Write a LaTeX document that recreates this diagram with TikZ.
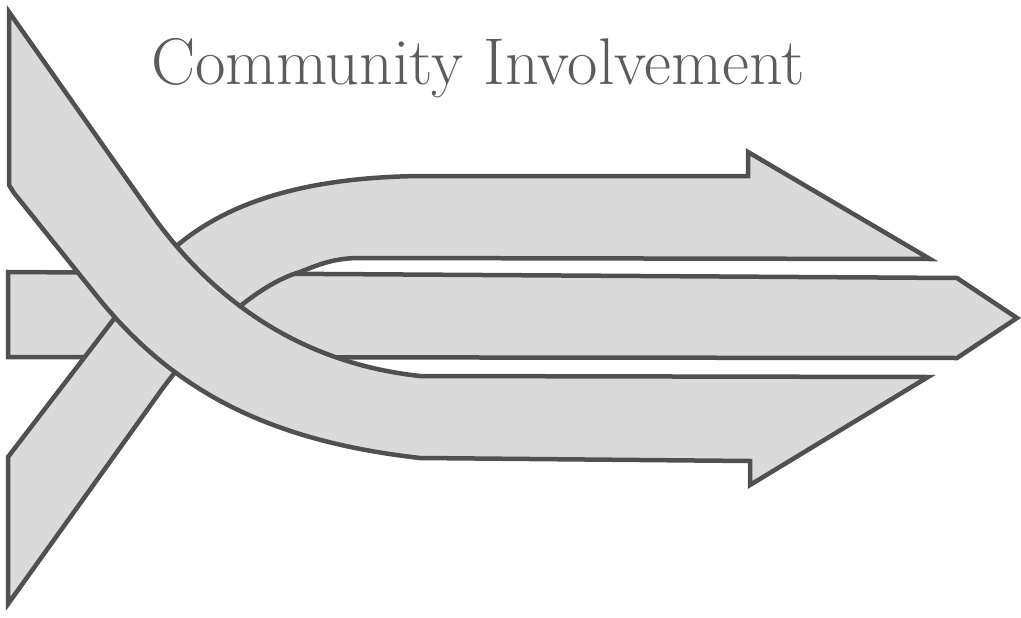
\documentclass[tikz,border=0pt]{standalone}
\usepackage{xcolor}
\definecolor{ribbonfill}{HTML}{DADADA}
\definecolor{ribbonline}{HTML}{505050}
\definecolor{titlegray}{HTML}{5C5C5C}
\begin{document}
\begin{tikzpicture}[x=0.025cm,y=-0.025cm,
  ribbon/.style={fill=ribbonfill, draw=ribbonline, line width=3.2pt, line join=miter, miter limit=4},
  titletext/.style={text=titlegray, font=\fontsize{47}{52}\selectfont, anchor=base, inner sep=0pt}]
\useasboundingbox (0,0) rectangle (1021,618);
% middle band (back)
\path[ribbon] (8,272) -- (957,278) -- (1017,318) -- (957,358) -- (8,357) -- cycle;
% ribbon from bottom left to top arrow
\path[ribbon] (8,457) -- (8,604) -- (160,392)
  .. controls (200,337) and (255,285) .. (300,272)
  .. controls (320,264) and (335,258) .. (360,258)
  -- (930,259) -- (748,152) -- (748,176) -- (420,176)
  .. controls (260,178) and (185,225) .. (140,285) -- cycle;
% ribbon from top left to bottom arrow (front)
\path[ribbon] (9,12) -- (150,212)
  .. controls (205,290) and (290,362) .. (420,376)
  -- (928,377) -- (750,485) -- (750,461) -- (420,458)
  .. controls (260,440) and (170,385) .. (100,300)
  -- (14,193) -- (9,185) -- cycle;
\node[titletext] (title) at (478,84) {Community Involvement};
\end{tikzpicture}
\end{document}
